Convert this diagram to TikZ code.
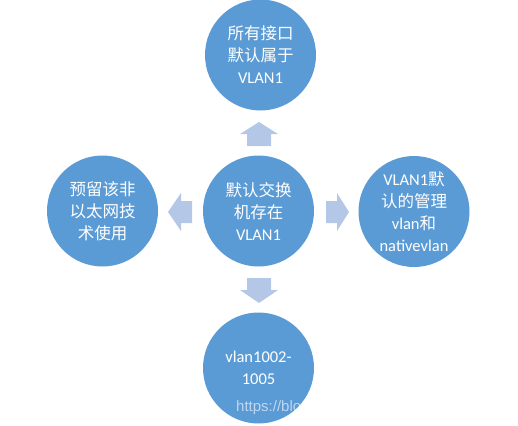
\documentclass[tikz,border=0pt]{standalone}
\usepackage{fontspec}
\setmainfont{Carlito}
\newfontfamily\cjk{Noto Sans CJK SC}
\newfontfamily\wmfont{Liberation Sans}
\definecolor{circblue}{HTML}{5B9BD5}
\definecolor{arrblue}{HTML}{B4C7E7}
\begin{document}
\begin{tikzpicture}[x=1pt,y=-1pt,
  bubble/.style={circle,fill=circblue,minimum size=111pt,inner sep=0pt,text=white,align=center,font=\fontsize{16.5}{22}\selectfont},
  blockarrow/.style={fill=arrblue},
  watermark/.style={anchor=base west,text=white,opacity=0.6,inner sep=0pt,font=\wmfont\fontsize{15}{18}\selectfont}]
\useasboundingbox (0,0) rectangle (518,425);
\node[bubble] (c) at (258.5,211) {{\cjk 默认交换}\\{\cjk 机存在}\\VLAN1};
\node[bubble] (t) at (260.5,55) {{\cjk 所有接口}\\{\cjk 默认属于}\\VLAN1};
\node[bubble] (l) at (102.5,211) {{\cjk 预留该非}\\{\cjk 以太网技}\\{\cjk 术使用}};
\node[bubble] (r) at (414,211.5) {VLAN1{\cjk 默}\\{\cjk 认的管理}\\vlan{\cjk 和}\\nativevlan};
\node[bubble] (b) at (258.5,368) {vlan1002-\\1005};
% block arrows
\fill[blockarrow] (247,146) -- (247,134) -- (240,134) -- (259,122) -- (278,134) -- (271,134) -- (271,146) -- cycle;
\fill[blockarrow] (247,278) -- (247,290) -- (240,290) -- (259,303) -- (278,290) -- (271,290) -- (271,278) -- cycle;
\fill[blockarrow] (192,201) -- (181,201) -- (181,193) -- (168,212) -- (181,231) -- (181,223) -- (192,223) -- cycle;
\fill[blockarrow] (326,201) -- (337,201) -- (337,193) -- (349,212) -- (337,231) -- (337,223) -- (326,223) -- cycle;
% watermark
\begin{scope}
\clip (b.center) circle[radius=55.5];
\node[watermark] (wm) at (236,411) {https://blog.csdn.net};
\end{scope}
\end{tikzpicture}
\end{document}
